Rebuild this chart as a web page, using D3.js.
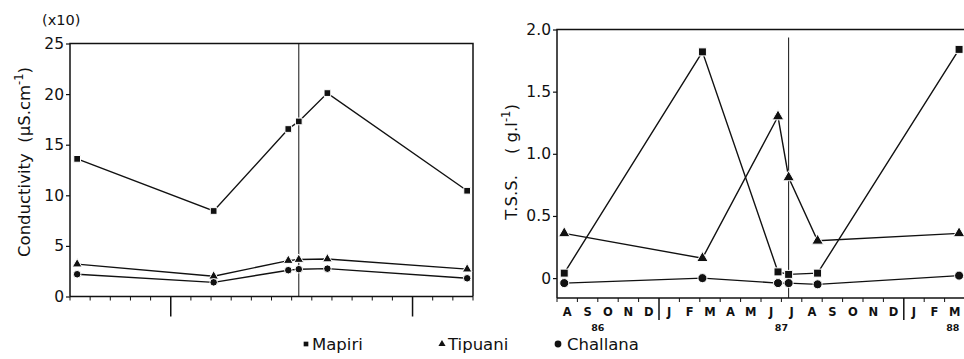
<!DOCTYPE html>
<html>
<head>
<meta charset="utf-8">
<script src="https://d3js.org/d3.v7.min.js"></script>
<style>
  body { margin: 0; background: #fff; }
  svg text { font-family: "DejaVu Sans", sans-serif; fill: #111; white-space: pre; }
</style>
</head>
<body>
<div id="chart"></div>
<script>
// sampling dates, shared by both panels
const sampleDates = ["1986-08-12", "1987-03-05", "1987-06-26", "1987-07-12", "1987-08-25", "1988-03-23"];
const months = ["A","S","O","N","D","J","F","M","A","M","J","J","A","S","O","N","D","J","F","M"];
const years = ["86", "87", "88"];

// conductivity (x10 µS/cm)
const condMapiri   = [13.6, 8.45, 16.55, 17.3, 20.1, 10.45];
const condTipuani  = [3.2, 2.0, 3.55, 3.65, 3.7, 2.7];
const condChallana = [2.2, 1.4, 2.6, 2.7, 2.75, 1.8];
const condTicks = [0, 5, 10, 15, 20, 25];

// total suspended solids (g/l)
const tssMapiri   = [0.04, 1.82, 0.05, 0.03, 0.04, 1.84];
const tssTipuani  = [0.36, 0.16, 1.30, 0.81, 0.30, 0.36];
const tssChallana = [-0.04, 0.0, -0.04, -0.04, -0.05, 0.02];
const tssTicks = [0, 0.5, 1.0, 1.5, 2.0];

const W = 964, H = 359;
const svg = d3.select("#chart").append("svg")
    .attr("width", W).attr("height", H);

// months since 1 Aug 1986
function monthIndex(s) {
    const d = new Date(s + "T00:00:00");
    const y = d.getFullYear(), m = d.getMonth();
    const dim = new Date(y, m + 1, 0).getDate();
    return (y - 1986) * 12 + m - 7 + (d.getDate() - 1) / dim;
}
const t = sampleDates.map(monthIndex);

const sym = {
    sq: d3.symbolSquare,
    tri: d3.symbolTriangle,
    cir: d3.symbolCircle
};

function drawPanel(o) {
    const g = svg.append("g");
    const x = d3.scaleLinear().domain([0, 20]).range(o.xr);
    const y = d3.scaleLinear().domain(o.yd).range(o.yr);
    const left = o.xr[0], right = o.xr[1];
    const top = o.yr[1], bottom = o.yr[0];

    // frame: left, top, right
    g.append("path")
        .attr("d", `M${left},${bottom}V${top}H${right}V${bottom}`)
        .attr("fill", "none").attr("stroke", "#111").attr("stroke-width", 1.5);
    // bottom axis line
    g.append("line")
        .attr("x1", left).attr("x2", right).attr("y1", bottom).attr("y2", bottom)
        .attr("stroke", "#111").attr("stroke-width", 1.5);

    // month ticks (year boundaries are long)
    g.selectAll(".mt").data(d3.range(0, 21)).enter().append("line")
        .attr("x1", d => x(d)).attr("x2", d => x(d))
        .attr("y1", bottom)
        .attr("y2", d => (d === 5 || d === 17) ? bottom + o.majorLen : bottom + 4)
        .attr("stroke", "#111").attr("stroke-width", d => (d === 5 || d === 17) ? 1.5 : 1);

    // y axis
    const ax = d3.axisLeft(y).tickValues(o.ticks).tickSize(4).tickFormat(o.fmt);
    const ag = g.append("g").attr("transform", `translate(${left},0)`).call(ax);
    ag.select(".domain").remove();
    ag.selectAll("line").attr("stroke", "#111").attr("stroke-width", 1.2);
    ag.selectAll("text").attr("font-size", 15.5).attr("x", -6)
        .style("font-family", "'DejaVu Sans', sans-serif").attr("fill", "#111");

    // vertical marker line at the July 87 sample
    g.append("line")
        .attr("x1", x(t[3])).attr("x2", x(t[3]))
        .attr("y1", top + o.vTop).attr("y2", bottom)
        .attr("stroke", "#111").attr("stroke-width", 1);

    const line = d3.line().x((d, i) => x(t[i])).y(d => y(d));
    o.series.forEach(s => {
        g.append("path").datum(s.values)
            .attr("d", line).attr("fill", "none")
            .attr("stroke", "#111").attr("stroke-width", 1.4);
        g.selectAll(null).data(s.values).enter().append("path")
            .attr("transform", (d, i) => `translate(${x(t[i])},${y(d)})`)
            .attr("d", d3.symbol().type(sym[s.shape]).size(s.shape === "tri" ? o.size * 0.9 : o.size))
            .attr("fill", "#111").attr("stroke", "#fff").attr("stroke-width", 1);
    });
    return { x, y, g };
}

// left panel: conductivity
const p1 = drawPanel({
    xr: [70, 473], yr: [296.5, 43.5], yd: [0, 25],
    ticks: condTicks, fmt: d3.format("d"), majorLen: 20, vTop: 0, size: 45,
    series: [
        { values: condMapiri, shape: "sq" },
        { values: condTipuani, shape: "tri" },
        { values: condChallana, shape: "cir" }
    ]
});

svg.append("text").attr("x", 42).attr("y", 25).attr("font-size", 14.5).text("(x10)");
svg.append("text")
    .attr("transform", "translate(30,162) rotate(-90)")
    .attr("text-anchor", "middle").attr("font-size", 16.5)
    .call(tx => {
        tx.append("tspan").text("Conductivity  (µS.cm");
        tx.append("tspan").attr("dy", -7).attr("font-size", 11.5).text("-1");
        tx.append("tspan").attr("dy", 7).text(")");
    });

// right panel: T.S.S.
const p2 = drawPanel({
    xr: [557, 965], yr: [298, 29.5], yd: [-0.16, 2.0],
    ticks: tssTicks, fmt: d => d === 0 ? "0" : d3.format(".1f")(d), majorLen: 22, vTop: 8, size: 64,
    series: [
        { values: tssMapiri, shape: "sq" },
        { values: tssTipuani, shape: "tri" },
        { values: tssChallana, shape: "cir" }
    ]
});

p2.g.selectAll(".ml").data(months).enter().append("text")
    .attr("x", (d, i) => p2.x(i + 0.5)).attr("y", 316)
    .attr("text-anchor", "middle").attr("font-size", 11.5).attr("font-weight", "bold")
    .text(d => d);
const yearPos = [2.0, 11.0, 19.4];
p2.g.selectAll(".yl").data(years).enter().append("text")
    .attr("x", (d, i) => p2.x(yearPos[i])).attr("y", 331)
    .attr("text-anchor", "middle").attr("font-size", 9.5).attr("font-weight", "bold")
    .text(d => d);

svg.append("text")
    .attr("transform", "translate(517,162) rotate(-90)")
    .attr("text-anchor", "middle").attr("font-size", 16.5)
    .call(tx => {
        tx.append("tspan").text("T.S.S.    ( g.l");
        tx.append("tspan").attr("dy", -7).attr("font-size", 11.5).text("-1");
        tx.append("tspan").attr("dy", 7).text(")");
    });

// legend
const legend = [
    { name: "Mapiri", shape: "sq", x: 306 },
    { name: "Tipuani", shape: "tri", x: 442 },
    { name: "Challana", shape: "cir", x: 558 }
];
legend.forEach(l => {
    svg.append("path")
        .attr("transform", `translate(${l.x},${344})`)
        .attr("d", d3.symbol().type(sym[l.shape]).size(l.shape === "cir" ? 36 : 22))
        .attr("fill", "#111");
    svg.append("text").attr("x", l.x + (l.shape === "cir" ? 9 : 6)).attr("y", 350)
        .attr("font-size", 16.5).text(l.name);
});
</script>
</body>
</html>
